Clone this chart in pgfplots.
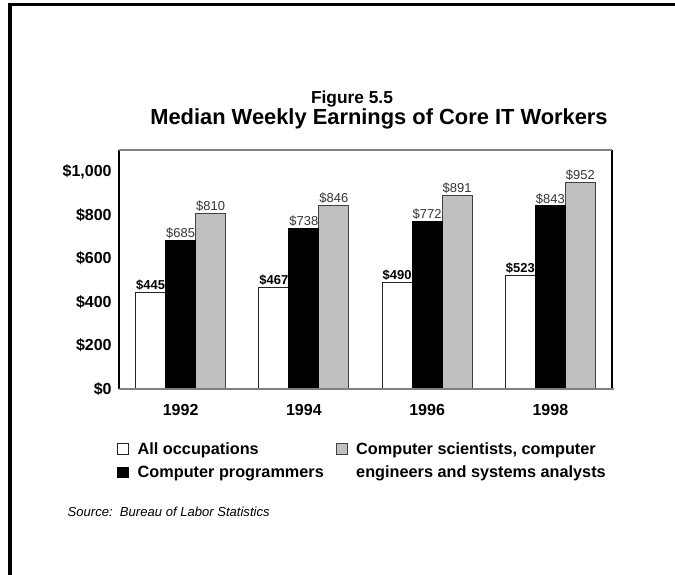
\documentclass[border=0pt]{standalone}
\usepackage{fontspec}
\setmainfont{Liberation Sans}
\usepackage{pgfplots}
\pgfplotsset{compat=1.18}
\definecolor{barfill}{HTML}{C0C0C0}
\definecolor{axisgray}{HTML}{808080}
\pgfplotsset{
  sq/.style={legend image code/.code={%
    \draw[#1,line width=0.75pt] (0pt,-4pt) rectangle (8pt,4pt);}},
}
\begin{document}
\begin{tikzpicture}
\begin{scope}[x=0.75pt,y=-0.75pt]
\useasboundingbox (0,0) rectangle (675,575);
% page frame
\draw[line width=2.4pt] (8,4.5) -- (675,4.5);
\draw[line width=2.6pt] (10.2,3) -- (10.2,575);
% titles
\node[font=\bfseries\fontsize{13}{15}\selectfont, anchor=base] at (352,103) {Figure 5.5};
\node[font=\bfseries\fontsize{16.4}{18}\selectfont, anchor=base] at (379,124) {Median Weekly Earnings of Core IT Workers};
\node[font=\itshape\fontsize{9.8}{11}\selectfont, anchor=base west] at (63,516) {Source:\ \ Bureau of Labor Statistics};
\end{scope}

\begin{axis}[
  at={(89.25pt,-291.75pt)}, anchor=south west,
  scale only axis,
  width=369.75pt, height=179.25pt,
  xmin=0.5, xmax=4.5,
  ymin=0, ymax=1100,
  xtick={1,2,3,4},
  xticklabels={1992,1994,1996,1998},
  ytick={0,200,400,600,800,1000},
  yticklabels={\$0,\$200,\$400,\$600,\$800,{\$1,000}},
  major tick length=0pt,
  axis line style={draw=none},
  yticklabel style={font=\bfseries\fontsize{12}{14}\selectfont, xshift=-2pt},
  xticklabel style={font=\bfseries\fontsize{12}{14}\selectfont, yshift=-8pt},
  /pgf/number format/assume math mode=true,
  clip=false,
  legend columns=2,
  legend cell align=left,
  legend style={draw=none, fill=none,
    at={(axis description cs:-0.012,-0.2)}, anchor=north west,
    font=\bfseries\fontsize{12.2}{14}\selectfont,
    /tikz/every odd column/.append style={column sep=4.5pt},
    /tikz/every even column/.append style={column sep=7pt},
    row sep=3pt},
  nodes near coords={\$\pgfmathprintnumber{\pgfplotspointmeta}},
]
\addplot[ybar, bar width=22.5pt, bar shift=-22.5pt, fill=white, draw=black!85, line width=0.75pt, forget plot,
  every node near coord/.append style={font=\bfseries\fontsize{9.7}{11}\selectfont, text=black, inner sep=1pt, xshift=-22.5pt}]
  coordinates {(1,445) (2,467) (3,490) (4,523)};
\addplot[ybar, bar width=22.5pt, bar shift=22.5pt, fill=barfill, draw=black!75, line width=0.75pt, forget plot,
  every node near coord/.append style={font=\fontsize{9.7}{11}\selectfont, text=black!80, inner sep=1pt, xshift=22.5pt}]
  coordinates {(1,810) (2,846) (3,891) (4,952)};
\addplot[ybar, bar width=22.5pt, bar shift=0pt, fill=black, draw=black, line width=0.75pt, forget plot,
  every node near coord/.append style={font=\fontsize{9.7}{11}\selectfont, text=black!80, inner sep=1pt}]
  coordinates {(1,685) (2,738) (3,772) (4,843)};

\addlegendimage{sq={fill=white,draw=black!85}}
\addlegendentry{All occupations}
\addlegendimage{sq={fill=barfill,draw=black!75}}
\addlegendentry{Computer scientists, computer}
\addlegendimage{sq={fill=black,draw=black}}
\addlegendentry{Computer programmers}
\addlegendimage{empty legend}
\addlegendentry{engineers and systems analysts}

% plot frame
\draw[black, line width=0.9pt] (rel axis cs:0,0) -- (rel axis cs:0,1);
\draw[black, line width=0.9pt] (rel axis cs:1,0) -- (rel axis cs:1,1);
\draw[axisgray, line width=0.9pt] (rel axis cs:0,1) -- (rel axis cs:1,1);
\draw[axisgray, line width=1.8pt] (rel axis cs:0,0) -- (rel axis cs:1.004,0);
\end{axis}
\end{tikzpicture}
\end{document}
